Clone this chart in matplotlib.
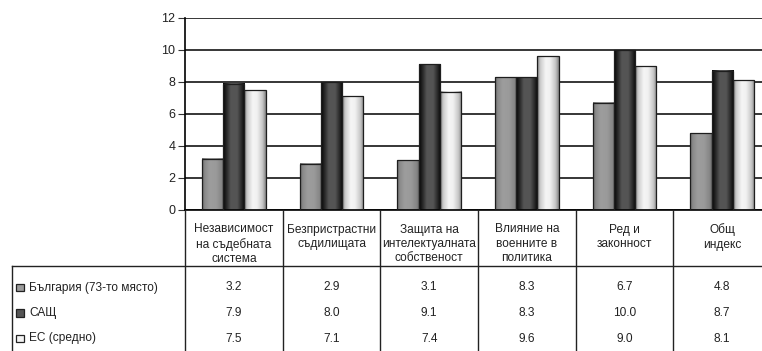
import numpy as np
import matplotlib
matplotlib.use('Agg')
import matplotlib.pyplot as plt
from matplotlib.colors import LinearSegmentedColormap
from matplotlib.lines import Line2D
from matplotlib.patches import Rectangle
from matplotlib.transforms import blended_transform_factory

plt.rcParams['font.family'] = ['Liberation Sans Narrow', 'Liberation Sans', 'DejaVu Sans']

# categories and scores (0-10 scale)
categories = ['Независимост\nна съдебната\nсистема', 'Безпристрастни\nсъдилищата',
              'Защита на\nинтелектуалната\nсобственост', 'Влияние на\nвоенните в\nполитика',
              'Ред и\nзаконност', 'Общ\nиндекс']
series = ['България (73-то място)', 'САЩ', 'ЕС (средно)']
bulgaria = [3.2, 2.9, 3.1, 8.3, 6.7, 4.8]
usa = [7.9, 8.0, 9.1, 8.3, 10.0, 8.7]
eu = [7.5, 7.1, 7.4, 9.6, 9.0, 8.1]
yticks = [0, 2, 4, 6, 8, 10, 12]

# horizontal shading for each series
shades = [
    [(0, '#6a6a6a'), (0.12, '#8a8a8a'), (0.35, '#9d9d9d'), (0.65, '#9a9a9a'), (0.9, '#868686'), (1, '#6e6e6e')],
    [(0, '#050505'), (0.15, '#262626'), (0.35, '#545454'), (0.65, '#555555'), (0.85, '#2a2a2a'), (1, '#060606')],
    [(0, '#808080'), (0.15, '#cdcdcd'), (0.4, '#f5f5f5'), (0.6, '#f1f1f1'), (0.85, '#c6c6c6'), (1, '#858585')],
]
cmaps = [LinearSegmentedColormap.from_list('s%d' % i, s) for i, s in enumerate(shades)]
grad = np.linspace(0, 1, 64).reshape(1, -1)

W, H = 762, 351
fig = plt.figure(figsize=(W / 100, H / 100), dpi=100)
ax = fig.add_axes([185 / W, 1 - 210 / H, 586 / W, 192 / H])

x = np.arange(len(categories))
bw = 0.218
for k, vals in enumerate([bulgaria, usa, eu]):
    bars = ax.bar(x + (k - 1) * bw, vals, bw, facecolor='none', edgecolor='#1e1e1e',
                  linewidth=0.9, zorder=3)
    for r in bars:
        x0, w, h = r.get_x(), r.get_width(), r.get_height()
        ax.imshow(grad, cmap=cmaps[k], extent=(x0, x0 + w, 0, h), aspect='auto',
                  interpolation='bilinear', zorder=2)

ax.set_xlim(-0.5, len(categories) - 0.5)
ax.set_ylim(0, 12)
ax.set_yticks(yticks)
ax.set_xticks([])
ax.yaxis.grid(True, color='#000000', linewidth=1.1)
ax.set_axisbelow(True)
ax.tick_params(axis='y', length=5, width=0.8, color='#333333', labelsize=9,
               labelcolor='#222222', pad=2)
for s in ['top', 'right']:
    ax.spines[s].set_visible(False)
ax.spines['left'].set_linewidth(1.2)
ax.spines['bottom'].set_linewidth(1.2)

# table below the plot
tr = blended_transform_factory(ax.transData, fig.transFigure)
def fy(py):
    return 1 - py / H

for b in np.arange(len(categories) + 1) - 0.5:
    fig.add_artist(Line2D([b, b], [fy(210), fy(H + 2)], transform=tr, color='#222222', lw=1.0))
fig.add_artist(Line2D([12 / W, 1.02], [fy(266), fy(266)], transform=fig.transFigure,
                      color='#222222', lw=1.0))
fig.add_artist(Line2D([12 / W, 12 / W], [fy(266), fy(H + 2)], transform=fig.transFigure,
                      color='#222222', lw=1.0))

for i, c in enumerate(categories):
    fig.text(i, fy(223.5), c, transform=tr, ha='center', va='top', fontsize=8.6,
             color='#222222', linespacing=1.25)

row_y = [287.5, 313, 338.5]
for k, (name, vals) in enumerate(zip(series, [bulgaria, usa, eu])):
    fig.add_artist(Rectangle((16 / W, fy(row_y[k] + 3.5)), 7.5 / W, 7.5 / H, transform=fig.transFigure,
                             facecolor=cmaps[k](0.5), edgecolor='#222222', lw=0.9))
    fig.text(29 / W, fy(row_y[k]), name, ha='left', va='center', fontsize=8.6, color='#222222')
    for i, v in enumerate(vals):
        fig.text(i, fy(row_y[k]), '%.1f' % v, transform=tr, ha='center', va='center',
                 fontsize=8.6, color='#222222')

fig.savefig('out.png', dpi=100)
